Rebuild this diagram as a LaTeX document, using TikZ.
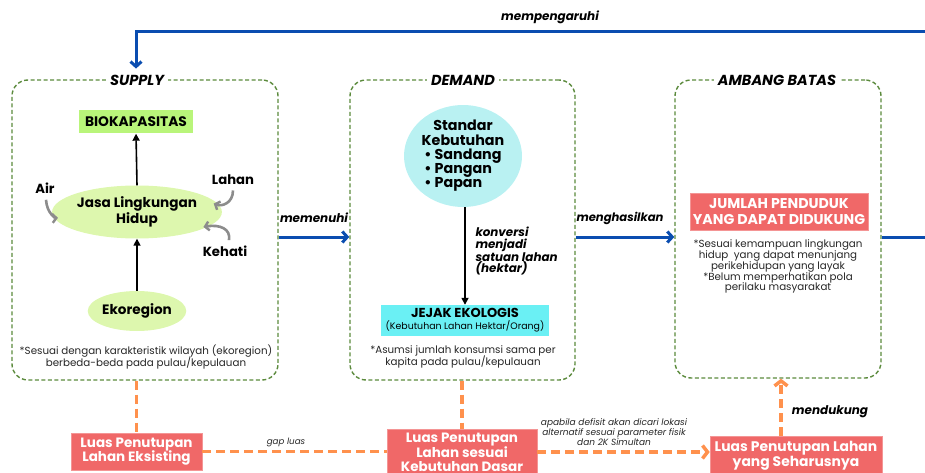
\documentclass[tikz,border=0pt]{standalone}
\usepackage{fontspec}
\setmainfont{Poppins}
\usetikzlibrary{arrows.meta,shapes.geometric}
\definecolor{grpgreen}{HTML}{5B8A3C}
\definecolor{myblue}{HTML}{0A4DB0}
\definecolor{orng}{HTML}{FF914D}
\definecolor{redbox}{HTML}{F06868}
\definecolor{limebox}{HTML}{B9F57A}
\definecolor{lightlime}{HTML}{DDF7AE}
\definecolor{lightcyan}{HTML}{B9F1F2}
\definecolor{cyanbox}{HTML}{6AF0F4}
\definecolor{arrgray}{HTML}{8C8C8C}
\newcommand{\fs}[2]{\fontsize{#1}{#2}\selectfont}
\begin{document}
\begin{tikzpicture}[x=1pt,y=-1pt,
  grp/.style={draw=grpgreen,line width=1.4pt,dash pattern=on 4pt off 2.5pt,rounded corners=16pt,inner sep=0pt},
  grplabel/.style={fill=white,inner sep=4pt,font=\bfseries\itshape\fs{14.5}{16}},
  bluearr/.style={draw=myblue,line width=3pt,-{Straight Barb[length=5pt,width=11pt,line width=3pt]}},
  blackarr/.style={draw=black,line width=1.6pt,-{Triangle[length=7pt,width=7pt]}},
  grayarr/.style={draw=arrgray,line width=2.6pt,-{Straight Barb[length=4pt,width=9pt,line width=2.4pt]}},
  orngline/.style={draw=orng,line width=3.5pt,dash pattern=on 9pt off 5pt},
  orngarr/.style={orngline,-{Straight Barb[length=5pt,width=13pt,line width=3.5pt]}},
  redrect/.style={fill=redbox,draw=redbox!70!white,line width=0.6pt,text=white,font=\bfseries\fs{13.5}{14.5},align=center,inner sep=0pt},
  lbl/.style={font=\bfseries\itshape\fs{12}{13}},
  small/.style={font=\fs{10.3}{12.5},align=center,text=black!85},
  tinyit/.style={font=\itshape\fs{9}{9.2},align=center,text=black!85},
  bolditem/.style={font=\bfseries\fs{13.2}{15}}
]
\useasboundingbox (0,0) rectangle (925,473);
\clip (0,0) rectangle (925,473);

% group boxes
\node[grp,minimum width=266,minimum height=300] (supply) at (145,230) {};
\node[grp,minimum width=225,minimum height=300] (demand) at (462.5,230) {};
\node[grp,minimum width=206,minimum height=298] (ambang) at (778,229) {};
\node[grplabel] (supplylbl) at (137,80) {SUPPLY};
\node[grplabel] (demandlbl) at (463,80) {DEMAND};
\node[grplabel] (ambanglbl) at (777,80) {AMBANG BATAS};

% top feedback arrow
\coordinate (topR) at (925,32);
\coordinate (topL) at (136,32);
\draw[bluearr] (topR) -- (topL) -- ([yshift=2pt]supplylbl.north -| topL);
\node[lbl] (mempengaruhi) at (550,17) {mempengaruhi};
\coordinate (rightR) at (925,237);
\draw[draw=myblue,line width=3pt] ([yshift=-8pt]ambang.east) -- (rightR);

% horizontal arrows
\draw[bluearr] ([yshift=-7pt]supply.east) -- ([yshift=-7pt]demand.west);
\node[lbl] (memenuhi) at (314,218) {memenuhi};
\draw[bluearr] ([yshift=-7pt]demand.east) -- ([yshift=-8pt]ambang.west);
\node[lbl,font=\bfseries\itshape\fs{11.6}{13}] (menghasilkan) at (620,218) {menghasilkan};

% SUPPLY contents
\node[fill=limebox,minimum width=114,minimum height=23,inner sep=0pt,font=\bfseries\fs{13.8}{15}] (bio) at (136,122) {BIOKAPASITAS};
\node[ellipse,fill=lightlime,minimum width=149,minimum height=53,inner sep=0pt,align=center,font=\bfseries\fs{13.6}{14}] (jasa) at (137,212) {Jasa Lingkungan\\Hidup};
\node[ellipse,fill=lightlime,minimum width=90,minimum height=40,inner sep=0pt,font=\bfseries\fs{13.6}{15}] (eko) at (137,311) {Ekoregion};
\draw[blackarr] (jasa.north) -- (bio.south);
\draw[blackarr] (eko.north) -- (jasa.south);
\node[bolditem] (air) at (45,188) {Air};
\node[bolditem] (lahan) at (233,180) {Lahan};
\node[bolditem] (kehati) at (225,251) {Kehati};
\draw[grayarr] ([xshift=1pt,yshift=-3pt]air.south) .. controls (47,214) and (56,218) .. ([xshift=4pt]jasa.184);
\draw[grayarr] ([yshift=-2pt]lahan.south) .. controls (233,203) and (222,207) .. ([xshift=-4pt]jasa.6);
\draw[grayarr] ([xshift=4pt,yshift=2pt]kehati.north) .. controls (231,229) and (220,224) .. ([xshift=-4pt]jasa.-12);
\node[small] (supnote) at (146,357) {*Sesuai dengan karakteristik wilayah (ekoregion)\\berbeda-beda pada pulau/kepulauan};

% DEMAND contents
\node[ellipse,fill=lightcyan,minimum width=118,minimum height=86,inner sep=0pt,font=\bfseries\fs{14.3}{13.5}] (std) at (463,156)
  {\raisebox{3pt}{\begin{tabular}{@{}c@{}}Standar\\Kebutuhan\\\begin{tabular}{@{}l@{}}• Sandang\\• Pangan\\• Papan\end{tabular}\end{tabular}}};
\node[fill=cyanbox,minimum width=168,minimum height=31,inner sep=0pt,align=center] (jejak) at (465,320.5)
  {{\bfseries\fs{13}{13}JEJAK EKOLOGIS}\\{\fs{9.4}{10}(Kebutuhan Lahan Hektar/Orang)}};
\draw[blackarr] (std.south -| jejak.north) -- (jejak.north);
\node[lbl,font=\bfseries\itshape\fs{11.9}{11.7},align=left,anchor=west] (konversi) at (472,251) {konversi\\menjadi\\satuan lahan\\(hektar)};
\node[small] (demnote) at (463,357) {*Asumsi jumlah konsumsi sama per\\kapita pada pulau/kepulauan};

% AMBANG contents
\node[redrect,minimum width=178,minimum height=37,font=\bfseries\fs{14.2}{15.5}] (jumlah) at (779,211.5) {JUMLAH PENDUDUK\\YANG DAPAT DIDUKUNG};
\node[small,font=\fs{10.3}{10.9},anchor=north] (ambnote) at (778,236) {*Sesuai kemampuan lingkungan\\hidup\ \ yang dapat menunjang\\perikehidupan yang layak\\*Belum memperhatikan pola\\perilaku masyarakat};

% bottom boxes
\node[redrect,minimum width=131,minimum height=37] (eks) at (136.5,451.5) {Luas Penutupan\\Lahan Eksisting};
\node[redrect,minimum width=150,minimum height=46,font=\bfseries\fs{13.5}{13.8}] (dasar) at (462,452) {Luas Penutupan\\Lahan sesuai\\Kebutuhan Dasar};
\node[redrect,minimum width=172,minimum height=40,font=\bfseries\fs{13.9}{14.5}] (seharus) at (796,456) {Luas Penutupan Lahan\\yang Seharusnya};

\draw[orngline] (supply.south -| eks.north) -- (eks.north);
\draw[orngline] (demand.south -| dasar.north) -- (dasar.north);
\draw[orngline] (eks.east) -- (eks.east -| dasar.west);
\node[tinyit,font=\itshape\fs{8.7}{9}] (gap) at (286,442) {gap luas};
\draw[orngarr] (dasar.east) -- (dasar.east -| seharus.west);
\node[tinyit] (apabila) at (614,432) {apabila defisit akan dicari lokasi\\alternatif sesuai parameter fisik\\dan 2K Simultan};
\draw[orngarr] ([xshift=-15pt]seharus.north) -- ([xshift=-15pt]seharus.north |- ambang.south);
\node[lbl] (mendukung) at (830,412) {mendukung};
\end{tikzpicture}
\end{document}
